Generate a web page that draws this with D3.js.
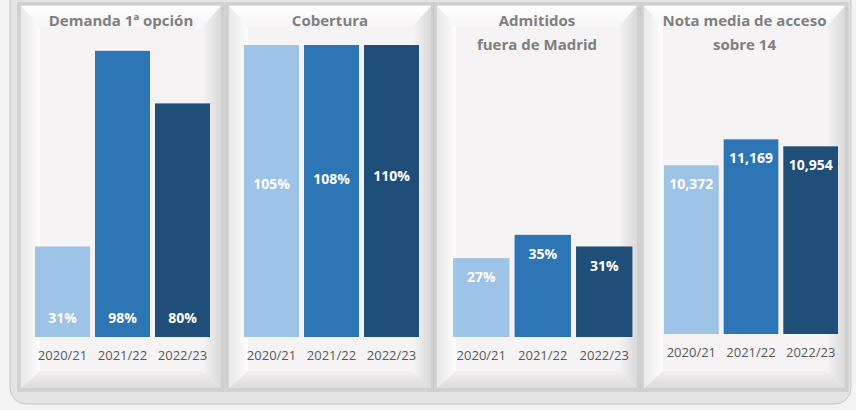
<!DOCTYPE html>
<html>
<head>
<meta charset="utf-8">
<script src="https://cdn.jsdelivr.net/npm/d3@7"></script>
<style>
  body { margin: 0; background: #fff; }
  svg { display: block; }
  text { font-family: "Open Sans", Lato, sans-serif; }
</style>
</head>
<body>
<div id="chart"></div>
<script>
// datos
const years = ["2020/21", "2021/22", "2022/23"];
const demanda = [31, 98, 80];
const cobertura = [105, 108, 110];
const fuera = [27, 35, 31];
const nota = [10.372, 11.169, 10.954];
const titulos = [
  ["Demanda 1ª opción"],
  ["Cobertura"],
  ["Admitidos", "fuera de Madrid"],
  ["Nota media de acceso", "sobre 14"]
];

const colores = ["#9dc3e6", "#2e75b6", "#1f4e79"];
const W = 856, H = 410;

const es = d3.formatLocale({ decimal: ",", thousands: ".", grouping: [3], currency: ["", "€"] });
const pct = v => v + "%";
const dec = es.format(".3f");

// lab: donde va la etiqueta del valor (base / centro / extremo)
const paneles = [
  { x0: 20,  x1: 222, datos: demanda,   titulo: titulos[0], dom: [0, 100],  bottom: 337, top: 45, xr: [32.5, 212.5], lab: "base", fmt: pct },
  { x0: 228, x1: 432, datos: cobertura, titulo: titulos[1], dom: [0, 100],  bottom: 337, top: 45, xr: [241.5, 421.5], lab: "mid",  fmt: pct },
  { x0: 436, x1: 638, datos: fuera,     titulo: titulos[2], dom: [0, 100],  bottom: 337, top: 45, xr: [450.5, 635],   lab: "end",  fmt: pct },
  { x0: 643, x1: 846, datos: nota,      titulo: titulos[3], dom: [5.2, 14], bottom: 334, top: 47, xr: [661.5, 840.5], lab: "end",  fmt: dec }
];

const svg = d3.select("#chart").append("svg")
  .attr("width", W)
  .attr("height", H);

// degradados del bisel
const defs = svg.append("defs");
function grad(id, x2, y2, c1, c2) {
  const g = defs.append("linearGradient").attr("id", id)
    .attr("x1", 0).attr("y1", 0).attr("x2", x2).attr("y2", y2);
  g.append("stop").attr("offset", "0%").attr("stop-color", c1);
  g.append("stop").attr("offset", "100%").attr("stop-color", c2);
}
grad("gTop", 0, 1, "#ffffff", "#f7f5f6");
grad("gLeft", 1, 0, "#e8e8e8", "#fdfdfd");
grad("gRight", 1, 0, "#f6f5f5", "#d8d8d8");
grad("gBottom", 0, 1, "#f2f0f1", "#dbdada");

// fondo
svg.append("rect").attr("width", W).attr("height", H).attr("fill", "#f3f3f3");
svg.append("rect")
  .attr("x", 10).attr("y", -20)
  .attr("width", 841).attr("height", 424)
  .attr("rx", 16)
  .attr("fill", "#e4e4e4")
  .attr("stroke", "#c6c6c6");

const y0 = 5, y1 = 389;
const s = 20, t = 22, b = 18;

paneles.forEach(function(p) {
  const g = svg.append("g");
  const x0 = p.x0, x1 = p.x1;

  g.append("rect")
    .attr("x", x0 - 2).attr("y", y0 - 2)
    .attr("width", x1 - x0 + 4).attr("height", y1 - y0 + 4)
    .attr("fill", "#dcdcdc").attr("stroke", "#c2c2c2");

  // cara
  g.append("rect")
    .attr("x", x0).attr("y", y0)
    .attr("width", x1 - x0).attr("height", y1 - y0)
    .attr("fill", "#f5f3f4");

  const poly = (pts, fill) => g.append("polygon")
    .attr("points", pts.map(d => d.join(",")).join(" "))
    .attr("fill", fill);
  poly([[x0, y0], [x1, y0], [x1 - s, y0 + t], [x0 + s, y0 + t]], "url(#gTop)");
  poly([[x0, y0], [x0 + s, y0 + t], [x0 + s, y1 - b], [x0, y1]], "url(#gLeft)");
  poly([[x1, y0], [x1, y1], [x1 - s, y1 - b], [x1 - s, y0 + t]], "url(#gRight)");
  poly([[x0, y1], [x0 + s, y1 - b], [x1 - s, y1 - b], [x1, y1]], "url(#gBottom)");

  g.append("rect")
    .attr("x", x0).attr("y", y0)
    .attr("width", x1 - x0).attr("height", y1 - y0)
    .attr("fill", "none").attr("stroke", "#c4c4c4");

  // escalas
  const x = d3.scaleBand()
    .domain(years)
    .range(p.xr)
    .paddingInner(0.083)
    .paddingOuter(0.042);
  const y = d3.scaleLinear().domain(p.dom).range([p.bottom, p.top]);
  const yc = y.copy().clamp(true);

  const filas = years.map((a, i) => ({ year: a, v: p.datos[i], c: colores[i] }));

  g.selectAll("rect.bar")
    .data(filas)
    .enter()
    .append("rect")
    .attr("class", "bar")
    .attr("x", d => x(d.year))
    .attr("width", x.bandwidth())
    .attr("y", d => yc(d.v))
    .attr("height", d => p.bottom - yc(d.v))
    .attr("fill", d => d.c);

  g.selectAll("text.val")
    .data(filas)
    .enter()
    .append("text")
    .attr("class", "val")
    .attr("x", d => x(d.year) + x.bandwidth() / 2)
    .attr("y", function(d) {
      if (p.lab == "base") return p.bottom - 19;
      if (p.lab == "mid") return (p.bottom + y(d.v)) / 2;
      return y(d.v) + 19;
    })
    .attr("dy", "0.36em")
    .attr("text-anchor", "middle")
    .attr("fill", "#fff")
    .attr("font-weight", "bold")
    .attr("font-size", 14)
    .text(d => p.fmt(d.v));

  // eje
  const ax = g.append("g")
    .attr("transform", "translate(0," + p.bottom + ")")
    .call(d3.axisBottom(x).tickSize(0).tickPadding(14));
  ax.select(".domain").remove();
  ax.selectAll("text")
    .attr("font-family", "'Open Sans', sans-serif")
    .attr("font-size", 13)
    .attr("fill", "#595959");

  // título
  const cx = (x0 + x1) / 2;
  g.selectAll("text.tit")
    .data(p.titulo)
    .enter()
    .append("text")
    .attr("class", "tit")
    .attr("x", cx)
    .attr("y", (d, i) => 26 + i * 24)
    .attr("text-anchor", "middle")
    .attr("fill", "#7f7f7f")
    .attr("font-weight", "bold")
    .attr("font-size", 15)
    .text(d => d);
});
</script>
</body>
</html>
